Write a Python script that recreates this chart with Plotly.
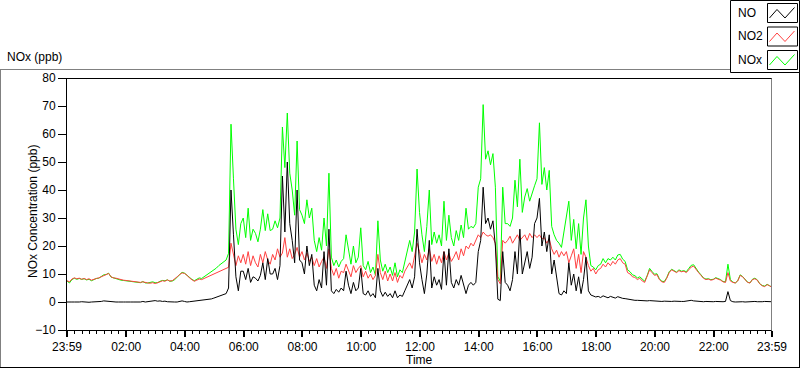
import pandas as pd
import plotly.graph_objects as go

# ---------------- DATA (5-minute samples, 23:59 -> 23:59) ----------------
START = "2024-01-01 23:59"
STEP_MIN = 5

NO2_ppb = [
    7.6, 7.2, 8.2, 8.6, 8.3, 8.5, 8.1, 8.4, 8.0, 8.3, 7.8, 8.2,
    8.4, 8.6, 9.0, 9.4, 9.6, 10.2, 9.0, 8.6, 8.5, 8.2, 8.0, 7.8,
    7.7, 7.6, 7.4, 7.3, 7.3, 7.2, 7.0, 7.2, 6.9, 6.8, 6.7, 6.9,
    6.6, 6.8, 7.2, 7.6, 7.4, 7.9, 7.5, 7.6, 8.2, 9.0, 9.8, 10.4,
    10.2, 9.6, 8.6, 8.0, 7.4, 7.8, 8.2, 8.0, 8.4, 8.8, 9.4, 9.8,
    10.0, 10.4, 11.0, 11.3, 11.6, 12.0, 12.4, 21.0, 17.0, 13.0, 16.5, 14.0,
    17.0, 13.5, 18.0, 13.0, 16.5, 14.0, 12.5, 17.0, 14.0, 18.0, 15.0, 13.5,
    17.0, 15.0, 19.0, 16.0, 17.5, 23.0, 16.0, 19.0, 15.5, 17.0, 19.5, 16.0,
    18.0, 15.0, 17.5, 14.5, 16.0, 13.0, 15.5, 12.5, 14.5, 16.0, 12.0, 19.0,
    12.0, 9.5, 12.0, 8.5, 11.0, 10.5, 13.5, 11.5, 9.0, 13.0, 10.5, 12.0,
    13.0, 9.0, 11.0, 8.5, 10.0, 8.0, 9.5, 17.0, 10.5, 8.0, 11.0, 7.5,
    10.0, 7.5, 10.5, 7.0, 9.5, 8.5, 11.0, 12.5, 14.0, 12.0, 16.0, 21.0,
    18.0, 14.0, 17.0, 15.0, 19.0, 14.5, 17.0, 13.5, 16.5, 14.0, 18.0, 15.0,
    17.5, 14.5, 16.0, 18.0, 15.0, 19.0, 16.5, 20.0, 19.0, 21.0, 20.0, 22.0,
    24.0, 23.0, 25.0, 24.0, 23.5, 24.0, 23.0, 21.0, 8.0, 6.5, 22.0, 21.0,
    22.0, 23.5, 21.0, 22.5, 24.0, 22.0, 23.0, 24.0, 22.0, 24.5, 23.0, 24.0,
    23.0, 24.0, 22.5, 23.0, 21.0, 22.5, 19.0, 17.0, 18.5, 16.0, 18.0, 16.5,
    18.0, 14.0, 16.5, 19.0, 12.0, 17.0, 10.5, 18.0, 16.0, 13.0, 11.0, 12.0,
    10.0, 11.5, 12.0, 13.5, 12.5, 14.0, 13.0, 14.5, 13.5, 15.0, 15.5, 14.0,
    13.5, 10.5, 10.0, 9.0, 8.8, 8.0, 8.5, 7.5, 7.0, 9.0, 11.5, 10.5,
    9.5, 9.8, 8.0, 7.2, 7.0, 8.5, 10.5, 11.5, 11.0, 10.5, 11.2, 10.8,
    11.0, 10.5, 11.5, 12.5, 12.8, 11.5, 10.5, 9.5, 8.5, 8.0, 8.2, 7.8,
    8.0, 8.5, 8.2, 7.8, 7.2, 7.0, 10.5, 7.5, 7.0, 6.8, 7.5, 9.5,
    9.0, 8.0, 7.0, 6.8, 8.0, 8.3, 7.8, 6.5, 5.8, 5.5, 6.2, 5.8, 5.2,
]

NO_ppb = [
    0.0, -0.1, 0.0, 0.0, -0.1, 0.0, 0.1, 0.0, 0.0, -0.1, 0.0, 0.0,
    0.1, 0.0, 0.2, 0.4, 0.3, 0.2, 0.0, 0.1, 0.0, 0.0, -0.1, 0.0,
    0.0, 0.1, 0.0, 0.0, 0.1, 0.0, 0.0, 0.2, 0.0, 0.1, 0.3, 0.4,
    0.5, 0.3, 0.4, 0.2, 0.3, 0.1, 0.0, 0.1, 0.0, 0.0, 0.3, 0.4,
    0.2, 0.0, 0.1, 0.2, 0.2, 0.3, 0.4, 0.5, 0.6, 0.7, 0.9, 1.1,
    1.4, 1.7, 2.0, 2.3, 2.5, 3.0, 5.0, 40.0, 24.0, 9.0, 4.0, 11.0,
    11.0, 8.0, 12.0, 7.0, 9.0, 8.5, 7.5, 9.5, 14.0, 8.0, 15.5, 10.0,
    10.0, 12.0, 8.0, 13.0, 45.0, 25.0, 50.0, 28.0, 22.0, 14.0, 40.0, 15.0,
    14.0, 10.0, 20.0, 13.0, 17.0, 6.0, 4.0, 8.0, 5.0, 18.0, 6.0, 26.0,
    4.0, 3.0, 4.5, 3.5, 5.0, 4.0, 11.0, 6.0, 3.0, 7.0, 4.0, 5.0,
    12.0, 3.0, 2.5, 4.0, 2.0, 3.0, 1.5, 12.0, 4.0, 2.0, 3.5, 2.0,
    3.0, 1.5, 4.0, 1.5, 2.5, 2.0, 4.0, 6.0, 8.0, 5.0, 9.0, 26.0,
    14.0, 8.0, 3.0, 10.0, 22.0, 5.0, 9.0, 6.0, 8.0, 4.5, 18.0, 6.0,
    19.0, 7.0, 5.0, 8.0, 6.0, 9.5, 6.0, 3.0, 6.0, 7.0, 6.0, 7.0,
    18.0, 22.0, 41.0, 28.0, 30.0, 26.0, 29.0, 20.0, 1.0, 0.5, 18.0, 7.0,
    6.0, 4.0, 8.0, 18.0, 10.0, 26.0, 10.0, 14.0, 18.0, 12.0, 16.0, 28.0,
    30.0, 37.0, 20.0, 25.0, 18.0, 24.0, 10.0, 15.0, 8.0, 3.0, 2.5, 4.0,
    3.0, 14.0, 6.0, 10.0, 4.0, 9.0, 3.0, 8.0, 16.0, 4.0, 2.5, 2.0,
    1.8, 2.0, 1.6, 2.2, 1.8, 1.5, 2.0, 1.6, 1.4, 1.9, 1.5, 1.3,
    1.2, 1.0, 0.8, 0.7, 0.6, 0.6, 0.5, 0.5, 0.4, 0.4, 0.5, 0.4,
    0.4, 0.3, 0.3, 0.2, 0.3, 0.2, 0.3, 0.2, 0.3, 0.2, 0.3, 0.2,
    0.2, 0.3, 0.5, 0.6, 0.4, 0.3, 0.2, 0.2, 0.1, 0.2, 0.1, 0.2,
    0.1, 0.2, 0.1, 0.2, 0.1, 0.2, 3.7, 0.5, 0.1, 0.0, 0.1, 0.2,
    0.1, 0.0, 0.1, 0.0, 0.1, 0.2, 0.1, 0.0, 0.1, 0.2, 0.1, 0.0, 0.1,
]

NOX_ppb = [
    7.5, 6.8, 8.0, 8.5, 8.1, 8.4, 8.1, 8.3, 7.9, 8.1, 7.6, 8.1,
    8.4, 8.5, 9.1, 9.7, 9.8, 10.3, 8.9, 8.6, 8.4, 8.1, 7.8, 7.7,
    7.6, 7.6, 7.3, 7.2, 7.3, 7.1, 6.9, 7.3, 6.8, 6.8, 6.9, 7.2,
    6.9, 6.9, 7.4, 7.7, 7.6, 7.9, 7.4, 7.5, 8.0, 8.9, 9.9, 10.6,
    10.3, 9.5, 8.7, 8.1, 7.6, 8.0, 8.6, 8.4, 9.0, 9.4, 10.3, 10.9,
    11.4, 12.1, 13.0, 13.6, 14.1, 15.0, 17.4, 63.5, 44.0, 26.0, 20.5, 28.0,
    30.0, 23.0, 33.5, 22.0, 26.0, 24.5, 21.5, 26.0, 33.0, 25.5, 31.5, 25.5,
    26.0, 29.0, 26.5, 30.0, 62.5, 48.0, 67.5, 46.0, 40.0, 31.0, 57.5, 33.0,
    31.0, 28.0, 36.5, 30.0, 33.5, 22.0, 18.0, 23.0, 18.5, 30.0, 20.0, 46.0,
    16.0, 13.0, 15.0, 12.5, 14.5, 15.5, 24.0, 19.0, 13.5, 20.0, 14.0, 16.0,
    26.5, 13.0, 11.5, 14.5, 10.5, 12.5, 9.5, 29.0, 15.0, 11.0, 13.5, 10.5,
    12.5, 9.5, 14.0, 9.0, 11.5, 10.5, 14.5, 18.0, 22.0, 18.0, 25.0, 47.5,
    32.0, 24.0, 18.0, 27.0, 40.0, 20.5, 25.0, 21.0, 24.0, 20.0, 36.0, 22.0,
    31.0, 23.0, 20.0, 25.5, 22.0, 27.5, 23.0, 33.5, 26.0, 27.0, 26.5, 28.0,
    41.0, 44.0, 70.5, 51.0, 54.0, 49.0, 53.0, 41.0, 9.0, 7.5, 41.0, 28.0,
    28.0, 27.0, 30.0, 43.5, 34.0, 51.0, 32.0, 37.5, 40.5, 36.0, 39.0, 41.5,
    44.0, 64.0, 42.0, 48.0, 40.0, 47.0, 27.0, 24.0, 22.0, 21.0, 19.5, 25.0,
    32.0, 36.0, 22.0, 29.5, 19.0, 28.0, 17.0, 30.0, 36.5, 20.0, 13.0, 12.5,
    11.5, 13.0, 13.5, 15.5, 14.0, 15.5, 15.0, 16.0, 15.0, 16.8, 17.0, 15.3,
    14.5, 11.5, 10.8, 9.7, 9.4, 8.6, 9.0, 8.0, 7.4, 9.4, 12.0, 10.9,
    9.9, 10.1, 8.3, 7.4, 7.3, 8.7, 10.8, 11.7, 11.3, 10.7, 11.5, 11.0,
    11.2, 10.8, 12.0, 13.1, 13.3, 11.8, 10.7, 9.7, 8.6, 8.2, 8.3, 8.0,
    8.1, 8.7, 8.3, 8.0, 7.3, 7.2, 13.5, 8.0, 7.1, 6.8, 7.6, 9.7,
    9.1, 8.0, 7.1, 6.8, 8.1, 8.5, 7.9, 6.5, 5.9, 5.7, 6.3, 5.8, 5.3,
]

TICK_TIMES = ["2024-01-01 23:59", "2024-01-02 02:00", "2024-01-02 04:00",
              "2024-01-02 06:00", "2024-01-02 08:00", "2024-01-02 10:00",
              "2024-01-02 12:00", "2024-01-02 14:00", "2024-01-02 16:00",
              "2024-01-02 18:00", "2024-01-02 20:00", "2024-01-02 22:00",
              "2024-01-02 23:59"]
TICK_LABELS = ["23:59", "02:00", "04:00", "06:00", "08:00", "10:00", "12:00",
               "14:00", "16:00", "18:00", "20:00", "22:00", "23:59"]
Y_TICKS = [-10, 0, 10, 20, 30, 40, 50, 60, 70, 80]

SERIES_NAMES = ["NO", "NO2", "NOx"]
SERIES_COLORS = ["#000000", "#ff4040", "#00ff00"]

n = min(len(NO_ppb), len(NO2_ppb), len(NOX_ppb))
times = pd.date_range(START, periods=n, freq=f"{STEP_MIN}min")

# ---------------- FIGURE ----------------
W, H = 800, 369
L, R, T, B = 67, 28, 78, 39
PW, PH = W - L - R, H - T - B


def px(X):
    return (X - L) / PW


def py(Y):
    return (H - B - Y) / PH


fig = go.Figure()
# draw order: NOx (bottom), NO2, NO (top)
for vals, name, col in [(NOX_ppb[:n], "NOx", SERIES_COLORS[2]),
                        (NO2_ppb[:n], "NO2", SERIES_COLORS[1]),
                        (NO_ppb[:n], "NO", SERIES_COLORS[0])]:
    fig.add_trace(go.Scatter(x=times, y=vals, mode="lines", name=name,
                             line=dict(color=col, width=1),
                             showlegend=False, hoverinfo="skip"))

FONT = "Liberation Sans, Arial, sans-serif"

fig.update_layout(
    width=W, height=H,
    margin=dict(l=L, r=R, t=T, b=B, pad=0),
    paper_bgcolor="white", plot_bgcolor="white",
    font=dict(family=FONT, size=12, color="#000000"),
    xaxis=dict(
        type="date", range=[TICK_TIMES[0], TICK_TIMES[-1]],
        tickmode="array", tickvals=TICK_TIMES, ticktext=TICK_LABELS,
        ticks="outside", ticklen=6, tickwidth=2, tickcolor="black",
        showline=True, linecolor="black", linewidth=1,
        showgrid=False, zeroline=False,
        minor=dict(ticks="outside", ticklen=3, tickwidth=1, tickcolor="black",
                   dtick=15 * 60 * 1000, tick0="2024-01-02 00:00", showgrid=False),
        tickfont=dict(size=12, family=FONT),
    ),
    yaxis=dict(
        range=[-10, 80], tickmode="array", tickvals=Y_TICKS,
        ticks="outside", ticklen=8, tickwidth=1, tickcolor="black",
        showline=True, linecolor="black", linewidth=1,
        showgrid=False, zeroline=False,
        tickfont=dict(size=12, family=FONT),
    ),
)

shapes = []
# outer frame
shapes.append(dict(type="line", xref="paper", yref="paper",
                   x0=px(0), x1=px(731), y0=py(69.5), y1=py(69.5),
                   line=dict(color="#808080", width=1)))
shapes.append(dict(type="line", xref="paper", yref="paper",
                   x0=px(0.5), x1=px(0.5), y0=py(69.5), y1=py(367.5),
                   line=dict(color="#808080", width=1)))
shapes.append(dict(type="line", xref="paper", yref="paper",
                   x0=px(0), x1=px(800), y0=py(367.5), y1=py(367.5),
                   line=dict(color="#000000", width=1)))
shapes.append(dict(type="line", xref="paper", yref="paper",
                   x0=px(799.5), x1=px(799.5), y0=py(72), y1=py(367.5),
                   line=dict(color="#000000", width=1)))
# plot area top (black) and right (gray)
shapes.append(dict(type="line", xref="paper", yref="paper",
                   x0=px(66.5), x1=px(772), y0=py(78.5), y1=py(78.5),
                   line=dict(color="#000000", width=1)))
shapes.append(dict(type="line", xref="paper", yref="paper",
                   x0=px(771.5), x1=px(771.5), y0=py(78.5), y1=py(330.5),
                   line=dict(color="#808080", width=1)))
# legend box
shapes.append(dict(type="rect", xref="paper", yref="paper",
                   x0=px(730.5), x1=px(799.5), y0=py(0.5), y1=py(72.5),
                   line=dict(color="#000000", width=1), fillcolor="white"))
annotations = []
for k, (name, col) in enumerate(zip(SERIES_NAMES, SERIES_COLORS)):
    top = 3.5 + k * 23.5
    shapes.append(dict(type="rect", xref="paper", yref="paper",
                       x0=px(767.5), x1=px(797.5), y0=py(top), y1=py(top + 19),
                       line=dict(color="#000000", width=1), fillcolor="white"))
    pts = [(769.5, top + 14.5), (777, top + 6), (785, top + 14.5), (794.5, top + 4)]
    path = "M " + " L ".join(f"{px(a):.5f},{py(b):.5f}" for a, b in pts)
    shapes.append(dict(type="path", xref="paper", yref="paper", path=path,
                       line=dict(color=col, width=1)))
    annotations.append(dict(xref="paper", yref="paper", x=px(736), y=py(top + 9.5),
                            text=name, showarrow=False, xanchor="left",
                            yanchor="middle", font=dict(size=12, family=FONT)))

annotations.append(dict(xref="paper", yref="paper", x=px(5), y=py(57),
                        text="NOx (ppb)", showarrow=False, xanchor="left",
                        yanchor="middle", font=dict(size=12, family=FONT)))
annotations.append(dict(xref="paper", yref="paper", x=px(33), y=py(212),
                        text="NOx Concentration (ppb)", showarrow=False,
                        textangle=-90, xanchor="center", yanchor="middle",
                        font=dict(size=12, family=FONT)))
annotations.append(dict(xref="paper", yref="paper", x=px(419), y=py(360),
                        text="Time", showarrow=False, xanchor="center",
                        yanchor="middle", font=dict(size=12, family=FONT)))

fig.update_layout(shapes=shapes, annotations=annotations)
fig.write_html("out.html",
               config={"displayModeBar": False, "staticPlot": True},
               post_script="document.body.style.margin='0';"
                           "document.body.style.padding='0';"
                           "document.body.style.overflow='hidden';")
